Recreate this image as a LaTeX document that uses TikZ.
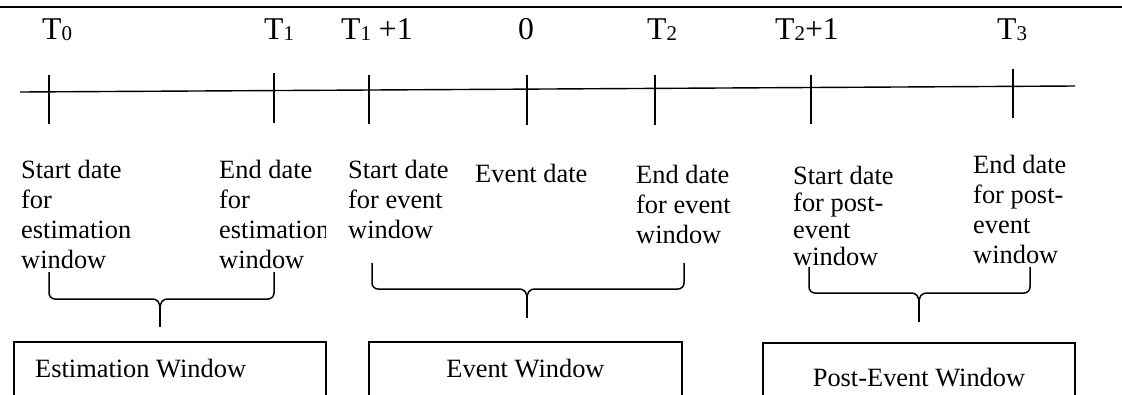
\documentclass[tikz,border=0pt]{standalone}
\usepackage{fontspec}
\setmainfont{Liberation Serif}
\newcommand{\sbs}[1]{\raisebox{-1.5pt}{\fontsize{21}{21}\selectfont #1}}
\newcommand{\stack}[2][30pt]{{\setlength{\tabcolsep}{0pt}\renewcommand{\arraystretch}{1}\fontsize{26.4}{#1}\selectfont\begin{tabular}[t]{l}#2\end{tabular}}}
\newcommand{\drawbrace}[6]{% Lx, Rx, top, h, mid, tip
  \draw[brace] (#1,#3) -- (#1,#4-6) to[out=-90,in=180] (#1+6,#4) -- (#5-9,#4)
     .. controls (#5-2,#4) and (#5,#4+3) .. (#5,#4+11);
  \draw[brace] (#2,#3) -- (#2,#4-6) to[out=-90,in=0] (#2-6,#4) -- (#5+9,#4)
     .. controls (#5+2,#4) and (#5,#4+3) .. (#5,#4+11);
  \draw[line width=2.6pt] (#5,#4+8) -- (#5,#6);}
\begin{document}
\begin{tikzpicture}[x=1pt,y=-1pt,
  body/.style={inner sep=0pt, anchor=base west},
  toplbl/.style={font=\fontsize{31.7}{34}\selectfont, inner sep=0pt, anchor=base west},
  tick/.style={line width=1.5pt},
  brace/.style={line width=1.5pt},
  winbox/.style={line width=1.5pt},
  wintext/.style={font=\fontsize{26.4}{30}\selectfont, inner sep=0pt, anchor=base}]
\useasboundingbox (0,0) rectangle (1122,394);
\clip (0,0) rectangle (1122,394);

% top rule
\draw[line width=2.2pt] (0,7) -- (1122,7);

% timeline
\coordinate (tlL) at (20,92);
\coordinate (tlR) at (1075,86);
\draw[line width=1.4pt] (tlL) -- (tlR);

% ticks
\draw[tick] (49,75) -- (49,124);
\draw[tick] (274,73) -- (274,123);
\draw[tick] (369,75) -- (369,124);
\draw[tick] (527,75) -- (527,125);
\draw[tick] (655,75) -- (655,125);
\draw[tick] (811,75) -- (811,124);
\draw[tick] (1013,69) -- (1013,118);

% top labels
\node[toplbl] (t0)  at (42,39)  {T\sbs{0}};
\node[toplbl] (t1)  at (264,39) {T\sbs{1}};
\node[toplbl] (t1p) at (341,39) {T\sbs{1} +1};
\node[toplbl] (z)   at (518,39) {0};
\node[toplbl] (t2)  at (647,39) {T\sbs{2}};
\node[toplbl] (t2p) at (775,39) {T\sbs{2}+1};
\node[toplbl] (t3)  at (997,39) {T\sbs{3}};

% lower labels
\node[body] (es) at (21,178) {\stack{Start date\\for\\estimation\\window}};
\begin{scope}
\clip (200,140) rectangle (325.5,300);
\node[body] (ee) at (219,178) {\stack{End date\\for\\estimation\\window}};
\end{scope}
\node[body] (vs) at (348,178) {\stack{Start date\\for event\\window}};
\node[body] (vd) at (475,182) {\stack{Event date}};
\node[body] (ve) at (636,183) {\stack{End date\\for event\\window}};
\node[body] (ps) at (793,184) {\stack[27.3pt]{Start date\\for post-\\event\\window}};
\node[body] (pe) at (973,173) {\stack{End date\\for post-\\event\\window}};

% braces
\drawbrace{49}{274}{272}{299}{160}{327}
\drawbrace{372}{684}{263}{289}{527}{318}
\drawbrace{809}{1030}{267}{293}{919}{322}

% window boxes
\draw[winbox] (14,420) -- (14,342) -- (326,342) -- (326,420);
\draw[winbox] (369,420) -- (369,342) -- (682,342) -- (682,420);
\draw[winbox] (763,420) -- (763,343) -- (1075,343) -- (1075,420);
\node[wintext, anchor=base west] (wE) at (35,377) {Estimation Window};
\node[wintext] (wV) at (525.5,377) {Event Window};
\node[wintext] (wP) at (919,386) {Post-Event Window};
\end{tikzpicture}
\end{document}
